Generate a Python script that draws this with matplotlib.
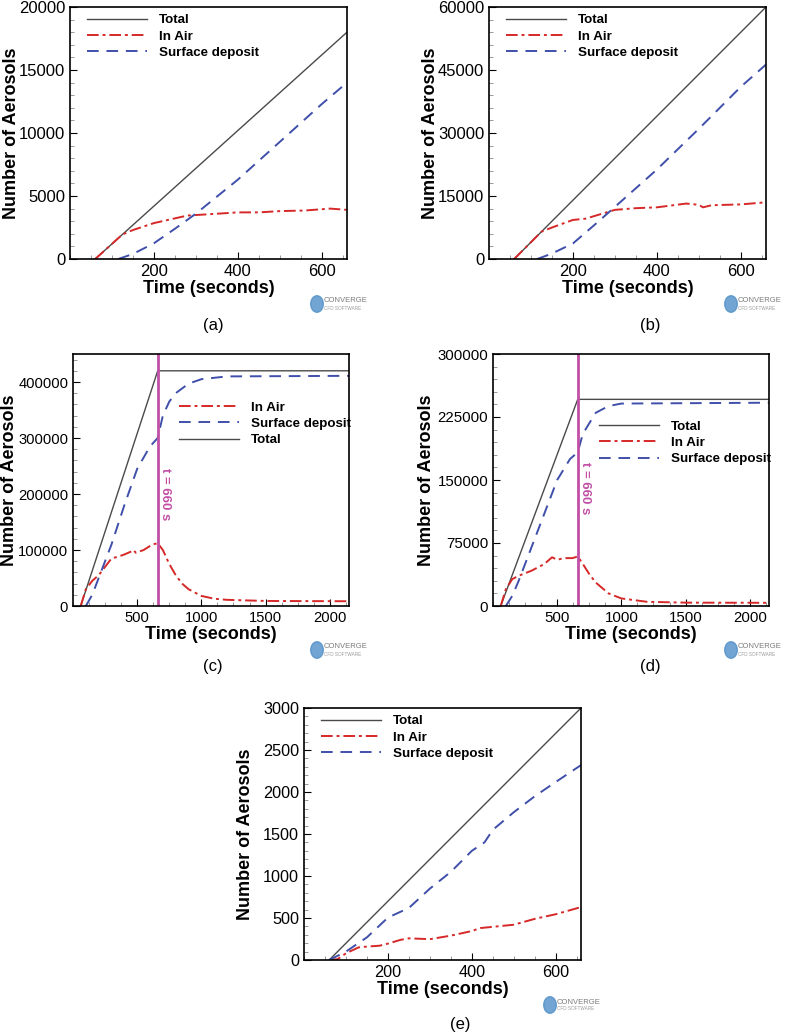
import numpy as np
import matplotlib.pyplot as plt
from matplotlib.ticker import AutoMinorLocator, MultipleLocator
from matplotlib.patches import Circle

plt.rcParams["font.family"] = ["Liberation Sans", "DejaVu Sans"]

# (a)
a_total_t = [60, 660]
a_total = [0, 18000]
a_air_t = [60, 125, 150, 200, 240, 280, 330, 400, 450, 500, 560, 620, 640, 660]
a_air = [0, 1950, 2300, 2850, 3150, 3450, 3550, 3700, 3700, 3800, 3850, 4000, 3950, 3900]
a_dep_t = [115, 150, 200, 250, 300, 400, 500, 600, 660]
a_dep = [0, 400, 1250, 2400, 3600, 6300, 9300, 12300, 14000]

# (b)
b_total_t = [60, 660]
b_total = [0, 60000]
b_air_t = [60, 125, 150, 200, 230, 260, 300, 350, 400, 470, 500, 510, 530, 600, 660]
b_air = [0, 6500, 7500, 9300, 9600, 10500, 11700, 12100, 12300, 13200, 12900, 12300, 12800, 13000, 13500]
b_dep_t = [115, 150, 200, 250, 300, 400, 500, 600, 660]
b_dep = [0, 1300, 3700, 8000, 12400, 21300, 31000, 41000, 46300]

# (c)
c_total_t = [60, 660, 2150]
c_total = [0, 420000, 420000]
c_air_t = [60, 100, 150, 200, 250, 300, 350, 400, 450, 470, 490, 550, 620, 660,
           700, 750, 800, 850, 900, 1000, 1100, 1200, 1500, 2150]
c_air = [0, 30000, 45000, 55000, 70000, 85000, 88000, 92000, 97000, 100000, 95000, 100000,
         110000, 112000, 100000, 75000, 55000, 40000, 30000, 18000, 13000, 11000, 9000, 8500]
c_dep_t = [100, 150, 200, 300, 400, 500, 600, 660, 700, 750, 800, 900, 1000, 1200, 2150]
c_dep = [0, 20000, 50000, 110000, 180000, 245000, 285000, 300000, 340000, 365000, 380000,
         397000, 405000, 410000, 411000]

# (d)
d_total_t = [60, 660, 2150]
d_total = [0, 246000, 246000]
d_air_t = [60, 100, 150, 200, 300, 350, 400, 460, 500, 550, 620, 660, 700, 750, 800, 900,
           1000, 1200, 1500, 2150]
d_air = [0, 20000, 32000, 36000, 42000, 46000, 50000, 58000, 55000, 57000, 57000, 59000,
         50000, 38000, 28000, 15000, 9000, 5000, 4000, 3800]
d_dep_t = [100, 150, 200, 300, 400, 500, 600, 660, 700, 800, 900, 1000, 2150]
d_dep = [0, 12000, 30000, 70000, 110000, 150000, 175000, 183000, 205000, 230000, 238000,
         241000, 242000]

# (e)
e_total_t = [60, 660]
e_total = [0, 3000]
e_air_t = [60, 80, 100, 130, 150, 180, 200, 230, 250, 300, 350, 400, 420, 450, 500, 550, 600, 660]
e_air = [0, 10, 80, 150, 160, 170, 195, 240, 258, 248, 290, 345, 380, 395, 420, 490, 545, 630]
e_dep_t = [60, 100, 150, 200, 250, 300, 350, 400, 430, 450, 500, 550, 600, 660]
e_dep = [0, 100, 270, 505, 620, 850, 1050, 1300, 1400, 1550, 1760, 1950, 2120, 2320]

col_total = "#4a4a4a"
col_air = "#d62828"
col_dep = "#3f4faa"
col_mark = "#c24fa6"

fig = plt.figure(figsize=(7.87, 10.34), dpi=100)


def make_ax(rect, xmax, xstep, ymax, ystep, ytop, tsize, ylab_x):
    ax = fig.add_axes(rect)
    ax.set_xlim(0, xmax)
    ax.set_ylim(0, ytop)
    ax.xaxis.set_major_locator(MultipleLocator(xstep))
    ax.yaxis.set_major_locator(MultipleLocator(ystep))
    ax.xaxis.set_minor_locator(AutoMinorLocator(4))
    ax.yaxis.set_minor_locator(AutoMinorLocator(5))
    ax.set_yticks(np.arange(0, ymax + 1, ystep))
    ax.set_xticks(np.arange(xstep, xmax, xstep))
    ax.ticklabel_format(style="plain", useOffset=False)
    ax.tick_params(which="both", direction="in", labelsize=tsize, top=False, right=False)
    ax.tick_params(which="major", length=5)
    ax.tick_params(which="minor", length=3, color="#888888")
    for s in ax.spines.values():
        s.set_linewidth(1.2)
    ax.set_xlabel("Time (seconds)", fontsize=13, fontweight="bold", labelpad=1)
    ax.set_ylabel("Number of Aerosols", fontsize=13, fontweight="bold")
    ax.yaxis.set_label_coords(ylab_x, 0.5)
    return ax


def draw(ax, tt, tv, at, av, dt, dv):
    h = {}
    h["Total"], = ax.plot(tt, tv, color=col_total, lw=1.0, label="Total")
    h["In Air"], = ax.plot(at, av, color=col_air, lw=1.4, dashes=(6, 2, 1.5, 2), label="In Air")
    h["Surface deposit"], = ax.plot(dt, dv, color=col_dep, lw=1.4, dashes=(6, 4), label="Surface deposit")
    return h


def legend(ax, h, order, x, y):
    ax.legend([h[k] for k in order], order, loc="upper left", bbox_to_anchor=(x, y),
              frameon=False, handlelength=4.5, handletextpad=0.9, labelspacing=0.3,
              borderpad=0, borderaxespad=0, prop={"weight": "bold", "size": 9.6})


def logo(x, y):
    fig.patches.append(Circle((x / 787, 1 - y / 1034), 0.008, transform=fig.transFigure,
                              color="#4f8fc8", alpha=0.8))
    fig.text((x + 7) / 787, 1 - (y - 3) / 1034, "CONVERGE", fontsize=5.5, color="#7a7a7a",
             va="center")
    fig.text((x + 7) / 787, 1 - (y + 4) / 1034, "CFD SOFTWARE", fontsize=3.3, color="#9a9a9a",
             va="center")


W = 277 / 787
H = 252 / 1034
order1 = ["Total", "In Air", "Surface deposit"]

ax = make_ax([70 / 787, 1 - 259 / 1034, W, H], 660, 200, 20000, 5000, 20000, 12, -0.18)
h = draw(ax, a_total_t, a_total, a_air_t, a_air, a_dep_t, a_dep)
legend(ax, h, order1, 0.06, 0.972)
fig.text(213 / 787, 1 - 325 / 1034, "(a)", fontsize=12, ha="center", va="center")
logo(317, 304)

ax = make_ax([489 / 787, 1 - 259 / 1034, W, H], 660, 200, 60000, 15000, 60000, 12, -0.18)
h = draw(ax, b_total_t, b_total, b_air_t, b_air, b_dep_t, b_dep)
legend(ax, h, order1, 0.06, 0.972)
fig.text(650 / 787, 1 - 325 / 1034, "(b)", fontsize=12, ha="center", va="center")
logo(731, 304)

ax = make_ax([73 / 787, 1 - 606 / 1034, 276 / 787, H], 2150, 500, 400000, 100000, 450000, 10.6, -0.2)
h = draw(ax, c_total_t, c_total, c_air_t, c_air, c_dep_t, c_dep)
ax.axvline(660, color=col_mark, lw=2)
ax.text(670, 200000, "t = 660 s", rotation=270, color=col_mark, fontsize=9.5,
        fontweight="bold", ha="left", va="center")
legend(ax, h, ["In Air", "Surface deposit", "Total"], 0.385, 0.812)
fig.text(213 / 787, 1 - 666 / 1034, "(c)", fontsize=12, ha="center", va="center")
logo(317, 650)

ax = make_ax([493 / 787, 1 - 606 / 1034, 276 / 787, H], 2150, 500, 300000, 75000, 300000, 10.8, -0.21)
h = draw(ax, d_total_t, d_total, d_air_t, d_air, d_dep_t, d_dep)
ax.axvline(660, color=col_mark, lw=2)
ax.text(670, 140000, "t = 660 s", rotation=270, color=col_mark, fontsize=9.5,
        fontweight="bold", ha="left", va="center")
legend(ax, h, order1, 0.385, 0.737)
fig.text(650 / 787, 1 - 666 / 1034, "(d)", fontsize=12, ha="center", va="center")
logo(731, 650)

ax = make_ax([304 / 787, 1 - 960 / 1034, W, H], 660, 200, 3000, 500, 3000, 11.7, -0.18)
h = draw(ax, e_total_t, e_total, e_air_t, e_air, e_dep_t, e_dep)
legend(ax, h, order1, 0.06, 0.972)
fig.text(460 / 787, 1 - 1025 / 1034, "(e)", fontsize=12, ha="center", va="center")
logo(550, 1005)

fig.savefig("out.png", dpi=100)
